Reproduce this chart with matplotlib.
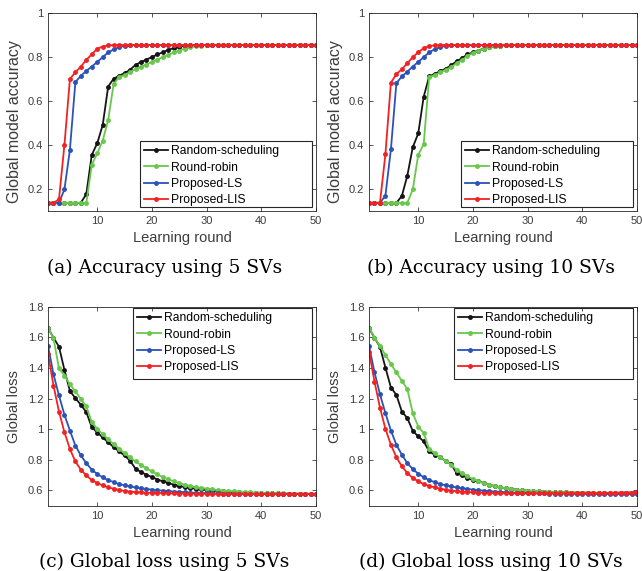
import numpy as np
import matplotlib.pyplot as plt
from matplotlib.patches import Rectangle
from matplotlib.ticker import FormatStrFormatter

rounds = np.arange(1, 51)
names = ['Random-scheduling', 'Round-robin', 'Proposed-LS', 'Proposed-LIS']
colors = ['#151515', '#68c84c', '#2b52b6', '#f22222']

# accuracy, 5 SVs
acc5_rand = [0.137]*7 + [0.177, 0.355, 0.408, 0.491, 0.666, 0.702, 0.715, 0.727, 0.742, 0.765,
                         0.777, 0.789, 0.800, 0.812, 0.822, 0.833, 0.841, 0.847, 0.851, 0.853] + [0.855]*23
acc5_rr = [0.137]*8 + [0.310, 0.362, 0.420, 0.514, 0.678, 0.709, 0.719, 0.731, 0.745, 0.756, 0.766,
                       0.778, 0.789, 0.800, 0.810, 0.821, 0.830, 0.838, 0.844, 0.849, 0.852, 0.854] + [0.855]*20
acc5_ls = [0.137]*3 + [0.198, 0.378, 0.686, 0.715, 0.737, 0.757, 0.778, 0.800, 0.821, 0.835,
                       0.845, 0.851, 0.854] + [0.855]*34
acc5_lis = [0.137, 0.137, 0.153, 0.400, 0.700, 0.731, 0.757, 0.787, 0.813, 0.838, 0.848, 0.853] + [0.855]*38

# accuracy, 10 SVs
acc10_rand = [0.137]*6 + [0.168, 0.260, 0.390, 0.453, 0.620, 0.712, 0.724, 0.736, 0.747, 0.762, 0.781,
                          0.795, 0.813, 0.821, 0.830, 0.839, 0.845, 0.849, 0.852, 0.854] + [0.855]*24
acc10_rr = [0.137]*8 + [0.198, 0.355, 0.405, 0.709, 0.718, 0.730, 0.742, 0.754, 0.772, 0.787, 0.806,
                        0.818, 0.828, 0.838, 0.845, 0.850, 0.852, 0.854] + [0.855]*24
acc10_ls = [0.137]*3 + [0.170, 0.380, 0.681, 0.712, 0.734, 0.757, 0.778, 0.800, 0.821, 0.836,
                        0.845, 0.851, 0.854] + [0.855]*34
acc10_lis = [0.137]*3 + [0.359, 0.684, 0.722, 0.745, 0.772, 0.800, 0.822, 0.841, 0.850, 0.853] + [0.855]*37

# loss, 5 SVs
loss5_rand = [1.659, 1.598, 1.539, 1.387, 1.250, 1.202, 1.159, 1.111, 1.013, 0.978,
              0.946, 0.913, 0.883, 0.854, 0.828, 0.794, 0.741, 0.720, 0.702, 0.687,
              0.671, 0.659, 0.648, 0.637, 0.628, 0.622, 0.616, 0.611, 0.606, 0.602,
              0.599, 0.596, 0.593, 0.591, 0.589, 0.587, 0.586, 0.584, 0.583, 0.582,
              0.581, 0.580, 0.580, 0.579, 0.579, 0.578, 0.578, 0.578, 0.577, 0.577]
loss5_rr = [1.663, 1.593, 1.398, 1.350, 1.293, 1.246, 1.198, 1.148, 1.046, 1.002,
            0.967, 0.933, 0.902, 0.872, 0.843, 0.815, 0.789, 0.765, 0.743, 0.724,
            0.704, 0.687, 0.672, 0.659, 0.648, 0.637, 0.629, 0.622, 0.616, 0.611,
            0.606, 0.602, 0.599, 0.596, 0.594, 0.591, 0.589, 0.587, 0.586, 0.584,
            0.583, 0.582, 0.581, 0.580, 0.579, 0.579, 0.578, 0.578, 0.577, 0.577]
loss5_ls = [1.543, 1.359, 1.220, 1.094, 0.991, 0.893, 0.828, 0.778, 0.735, 0.707,
            0.685, 0.667, 0.654, 0.641, 0.633, 0.626, 0.619, 0.614, 0.609, 0.605,
            0.601, 0.598, 0.595, 0.592, 0.590, 0.588, 0.586, 0.584, 0.583, 0.582,
            0.581, 0.580, 0.579, 0.579, 0.578, 0.578, 0.577, 0.577, 0.577, 0.576] + [0.576]*10
loss5_lis = [1.491, 1.285, 1.115, 0.980, 0.870, 0.789, 0.735, 0.698, 0.667, 0.648,
             0.633, 0.620, 0.611, 0.602, 0.596, 0.592, 0.589, 0.587, 0.585, 0.584,
             0.583, 0.582, 0.581, 0.580, 0.579, 0.579, 0.578, 0.578, 0.578, 0.577,
             0.577, 0.577, 0.577] + [0.576]*17

# loss, 10 SVs
loss10_rand = [1.659, 1.598, 1.537, 1.402, 1.272, 1.224, 1.115, 1.072, 0.989, 0.952,
               0.920, 0.854, 0.833, 0.815, 0.794, 0.772, 0.713, 0.698, 0.681, 0.667,
               0.659, 0.648, 0.637, 0.628, 0.620, 0.614, 0.609, 0.605, 0.601, 0.598,
               0.596, 0.594, 0.592, 0.590, 0.589, 0.588, 0.587, 0.586, 0.585, 0.585,
               0.585, 0.584, 0.584, 0.584, 0.584, 0.584, 0.585, 0.585, 0.586, 0.588]
loss10_rr = [1.663, 1.598, 1.543, 1.485, 1.424, 1.372, 1.315, 1.263, 1.104, 1.017,
             0.974, 0.872, 0.843, 0.815, 0.794, 0.767, 0.735, 0.713, 0.691, 0.674,
             0.661, 0.648, 0.637, 0.628, 0.620, 0.614, 0.609, 0.605, 0.601, 0.598,
             0.596, 0.594, 0.592, 0.590, 0.589, 0.588, 0.587, 0.586, 0.585, 0.585,
             0.584, 0.584, 0.583, 0.583, 0.583, 0.583, 0.582, 0.582, 0.582, 0.582]
loss10_ls = [1.543, 1.372, 1.228, 1.104, 0.991, 0.898, 0.833, 0.778, 0.739, 0.709,
             0.685, 0.667, 0.654, 0.641, 0.633, 0.626, 0.619, 0.614, 0.609, 0.605,
             0.601, 0.598, 0.595, 0.592, 0.590, 0.588, 0.586, 0.585, 0.584, 0.583,
             0.582, 0.581, 0.580, 0.579, 0.579, 0.578, 0.578, 0.577, 0.577, 0.577,
             0.576, 0.576, 0.576, 0.576, 0.575, 0.575, 0.575, 0.575, 0.575, 0.575]
loss10_lis = [1.507, 1.311, 1.141, 1.002, 0.898, 0.817, 0.757, 0.713, 0.681, 0.659,
              0.641, 0.628, 0.620, 0.611, 0.604, 0.599, 0.595, 0.592, 0.589, 0.587,
              0.585, 0.584, 0.583, 0.582, 0.581, 0.581, 0.580, 0.580, 0.580, 0.580,
              0.580, 0.580, 0.580, 0.580, 0.580, 0.580, 0.581, 0.581, 0.581, 0.582,
              0.582, 0.582, 0.583, 0.583, 0.584, 0.584, 0.585, 0.585, 0.586, 0.587]

panels = [
    ([acc5_rand, acc5_rr, acc5_ls, acc5_lis], '(a) Accuracy using 5 SVs'),
    ([acc10_rand, acc10_rr, acc10_ls, acc10_lis], '(b) Accuracy using 10 SVs'),
    ([loss5_rand, loss5_rr, loss5_ls, loss5_lis], '(c) Global loss using 5 SVs'),
    ([loss10_rand, loss10_rr, loss10_ls, loss10_lis], '(d) Global loss using 10 SVs'),
]

plt.rcParams['font.family'] = ['Liberation Sans', 'DejaVu Sans']

fig = plt.figure(figsize=(6.42, 5.71), dpi=100)
positions = [[0.0748, 0.6305, 0.4174, 0.3465],
             [0.5748, 0.6305, 0.4174, 0.3465],
             [0.0748, 0.1144, 0.4174, 0.3485],
             [0.5748, 0.1144, 0.4174, 0.3485]]
caption_x = [0.256, 0.765, 0.256, 0.765]
caption_y = [0.531, 0.531, 0.016, 0.016]

# legend box (x0, y0, x1, y1) in axes fraction; matlab-style box wider than its entries
box_acc = (0.343, 0.02, 0.985, 0.354)
box_loss = (0.317, 0.637, 0.985, 0.993)

leg_kw = dict(fontsize=8.7, frameon=False, borderaxespad=0, labelspacing=0.36,
              handlelength=2.0, handletextpad=0.25, borderpad=0.35, loc='upper left')

for i, (series, caption) in enumerate(panels):
    ax = fig.add_axes(positions[i])
    for y, name, c in zip(series, names, colors):
        ax.plot(rounds, y, '.-', color=c, lw=1.3, ms=5, label=name)

    ax.set_xlim(1, 50)
    ax.set_xticks([10, 20, 30, 40, 50])
    if i < 2:
        ax.set_ylim(0.1, 1.0)
        ax.set_yticks([0.2, 0.4, 0.6, 0.8, 1.0])
        ax.set_ylabel('Global model accuracy', fontsize=11.5, color='#3c3c3c')
        ax.yaxis.set_label_coords(-0.098, 0.45)
        box = box_acc
    else:
        ax.set_ylim(0.5, 1.8)
        ax.set_yticks([0.6, 0.8, 1.0, 1.2, 1.4, 1.6, 1.8])
        ax.set_ylabel('Global loss', fontsize=10.5, color='#3c3c3c')
        ax.yaxis.set_label_coords(-0.1, 0.5)
        box = box_loss
    ax.yaxis.set_major_formatter(FormatStrFormatter('%g'))
    ax.set_xlabel('Learning round', fontsize=10.5, color='#3c3c3c')

    leg = ax.legend(bbox_to_anchor=(box[0], box[3]), **leg_kw)
    for t in leg.get_texts():
        t.set_color('black')
    ax.add_patch(Rectangle((box[0], box[1]), box[2] - box[0], box[3] - box[1],
                           transform=ax.transAxes, facecolor='none',
                           edgecolor='#262626', lw=0.8, zorder=6))

    ax.tick_params(direction='in', top=True, right=True, length=3, width=0.6,
                   labelsize=8, colors='#3c3c3c', labelcolor='#3c3c3c')
    for s in ax.spines.values():
        s.set_color('#262626')
        s.set_linewidth(0.6)

    fig.text(caption_x[i], caption_y[i], caption, ha='center', va='center',
             family='DejaVu Serif', fontsize=13.4)

fig.savefig('out.png', dpi=100)
